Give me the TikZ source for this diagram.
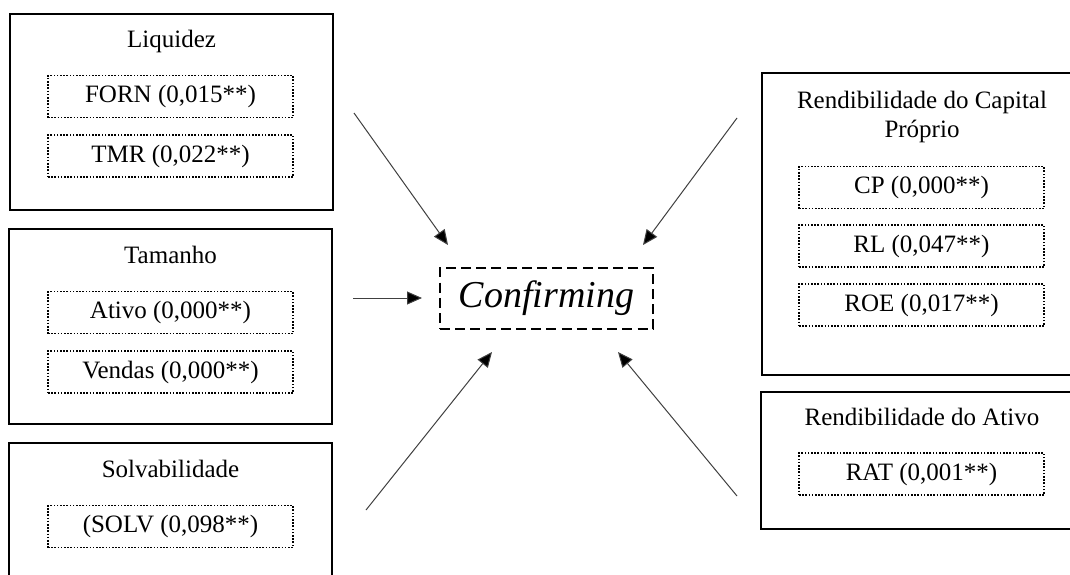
\documentclass[tikz,border=0pt]{standalone}
\usepackage{fontspec}
\setmainfont{Liberation Serif}
\usetikzlibrary{arrows.meta}
\tikzset{
  groupbox/.style={draw=black, line width=0.9pt, inner sep=0pt, minimum width=#1},
  groupbox/.default=161.5pt,
  itembox/.style={draw=black, line width=0.85pt, dash pattern=on 0.8pt off 0.8pt,
    inner sep=0pt, minimum width=122.5pt, minimum height=21pt, font=\fontsize{12.5}{14}\selectfont},
  grouptitle/.style={inner sep=0pt, align=center, font=\fontsize{12.5}{14.5}\selectfont},
  centrebox/.style={draw=black, line width=0.75pt, dash pattern=on 5pt off 2.6pt,
    inner sep=0pt, minimum width=106.5pt, minimum height=30.5pt,
    font=\fontsize{19}{22}\selectfont\itshape},
  link/.style={draw=black!75, line width=0.5pt, -{Triangle[length=7.5pt,width=6.5pt,fill=black]}}
}
\begin{document}
\begin{tikzpicture}[x=0.5pt, y=-0.5pt]
\path[use as bounding box, clip] (0,0) rectangle (1070,574);
\fill[white] (0,0) rectangle (1070,574);

% left column
\node[groupbox, minimum height=98pt] (liq) at (171.5,112) {};
\node[grouptitle] (liqT) at (171.5,41) {Liquidez};
\node[itembox] (forn) at (170.5,96.5) {FORN (0,015**)};
\node[itembox] (tmr) at (170.5,156) {TMR (0,022**)};

\node[groupbox, minimum height=97.5pt] (tam) at (170.5,326.5) {};
\node[grouptitle] (tamT) at (170.5,255) {Tamanho};
\node[itembox] (ativo) at (170.5,312.5) {Ativo (0,000**)};
\node[itembox] (vendas) at (170.5,372) {Vendas (0,000**)};

\node[groupbox, minimum height=80pt] (solv) at (170.5,523) {};
\node[grouptitle] (solvT) at (170.5,469) {Solvabilidade};
\node[itembox] (solvI) at (170.5,526.5) {(SOLV (0,098**)};

% right column
\node[groupbox=164pt, minimum height=151pt] (rcp) at (926,224) {};
\node[grouptitle] (rcpT) at (922,117) {Rendibilidade do Capital\\Próprio};
\node[itembox] (cp) at (921.5,187.5) {CP (0,000**)};
\node[itembox] (rl) at (921.5,246) {RL (0,047**)};
\node[itembox] (roe) at (921.5,305) {ROE (0,017**)};

\node[groupbox=164.5pt, minimum height=68.5pt] (rat) at (925.5,460.5) {};
\node[grouptitle] (ratT) at (922,417) {Rendibilidade do Ativo};
\node[itembox] (ratI) at (921.5,474) {RAT (0,001**)};

% centre
\node[centrebox] (conf) at (546.5,298.5) {Confirming};

% connectors
\coordinate (s1) at (354,113);  \coordinate (e1) at (448,245);
\coordinate (s2) at (737,118);  \coordinate (e2) at (643,245);
\coordinate (s3) at (353,298);  \coordinate (e3) at (422,298);
\coordinate (s4) at (366,510);  \coordinate (e4) at (492,352);
\coordinate (s5) at (737,496);  \coordinate (e5) at (618,352);
\foreach \i in {1,...,5} { \path[link] (s\i) -- (e\i); }
\end{tikzpicture}
\end{document}
